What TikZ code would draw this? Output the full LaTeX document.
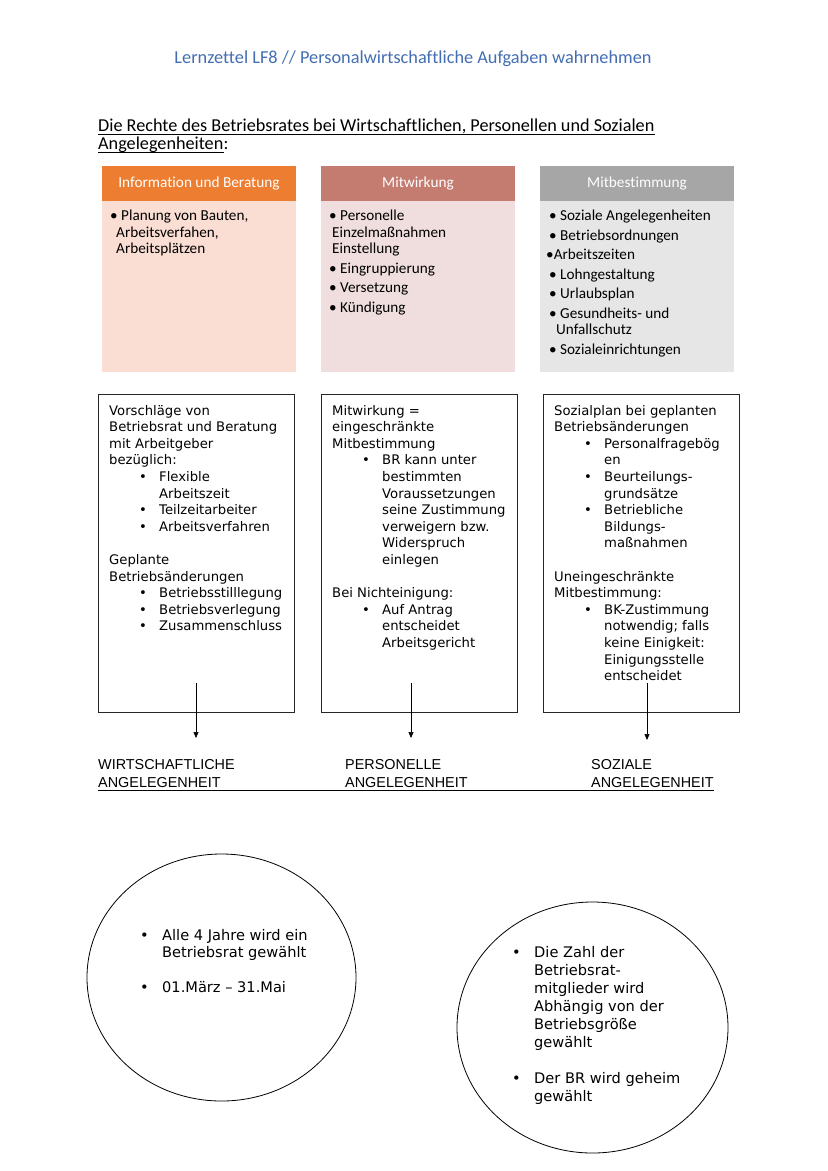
\documentclass[tikz,border=0pt]{standalone}
\usepackage{fontspec}
\setmainfont{DejaVu Sans}
\newfontfamily\calfont[Ligatures=CommonOff]{Carlito}
\newfontfamily\arlfont{Liberation Sans}
\usetikzlibrary{arrows.meta,shapes.geometric}
\definecolor{ttl}{RGB}{68,110,178}
\definecolor{hdrA}{RGB}{237,125,49}
\definecolor{bodA}{RGB}{250,221,211}
\definecolor{hdrB}{RGB}{196,123,112}
\definecolor{bodB}{RGB}{239,222,221}
\definecolor{hdrC}{RGB}{166,166,166}
\definecolor{bodC}{RGB}{230,230,230}
\newcommand\lowfont{\fontsize{13.2}{16.6}\selectfont\lineskiplimit=-20pt}
\newcommand\topfont{\calfont\fontsize{15.2}{16.5}\selectfont\lineskiplimit=-20pt}
\newcommand\myline[1]{\hbox{#1}}
\newcommand\mybul[1]{\hbox{\hspace*{30pt}\makebox[20pt][l]{•}#1}}
\newcommand\mycont[1]{\hbox{\hspace*{50pt}#1}}
\newcommand\myblank{\hbox{}}
\newcommand\cbul[1]{\hbox{\makebox[22pt][l]{•}#1}}
\newcommand\ccont[1]{\hbox{\hspace*{22pt}#1}}
\begin{document}
\begin{tikzpicture}[x=1pt,y=-1pt,
  hdr/.style={minimum width=194pt, minimum height=35pt, inner sep=0pt, text=white, font=\calfont\fontsize{15.3}{18}\selectfont},
  bodyb/.style={minimum width=194pt, minimum height=171pt, inner sep=0pt, anchor=north},
  txt/.style={anchor=base west, inner sep=0pt},
  lbox/.style={draw=black!85, line width=0.8pt, minimum width=196pt, minimum height=318pt, inner sep=0pt, anchor=north west},
  circ/.style={ellipse, draw=black, line width=0.8pt, inner sep=0pt},
  arr/.style={-{Triangle[length=6pt,width=5pt]}, line width=0.6pt},
  lab/.style={anchor=base west, inner sep=0pt, font=\arlfont\fontsize{14.4}{17}\selectfont},
  hd/.style={anchor=base west, inner sep=0pt, font=\calfont\fontsize{18.2}{20}\selectfont},
  uline/.style={line width=0.7pt}]
\useasboundingbox[fill=white] (0,0) rectangle (828,1171);

% title
\node[anchor=base, inner sep=0pt, font=\calfont\fontsize{18.3}{21}\selectfont, text=ttl] (title) at (413,63) {Lernzettel LF8 // Personalwirtschaftliche Aufgaben wahrnehmen};

% heading
\node[hd] (hd1) at (98,131) {Die Rechte des Betriebsrates bei Wirtschaftlichen, Personellen und Sozialen};
\node[hd] (hd2) at (98,149) {Angelegenheiten};
\node[hd] (hd2c) at (hd2.base east) {:};
\draw[uline] ([yshift=-3pt]hd1.base west) -- ([yshift=-3pt]hd1.base east);
\draw[uline] ([yshift=-3pt]hd2.base west) -- ([yshift=-3pt]hd2.base east);

% top boxes
\node[hdr, fill=hdrA] (h1) at (199,183.5) {Information und Beratung};
\node[bodyb, fill=bodA] (b1) at (h1.south) {};
\node[hdr, fill=hdrB] (h2) at (418,183.5) {Mitwirkung};
\node[bodyb, fill=bodB] (b2) at (h2.south) {};
\node[hdr, fill=hdrC] (h3) at (637,183.5) {Mitbestimmung};
\node[bodyb, fill=bodC] (b3) at (h3.south) {};

\node[txt] (t1) at (110,220.5) {\vtop{\topfont
  \myline{• Planung von Bauten,}
  \myline{\hspace*{6pt}Arbeitsverfahen,}
  \myline{\hspace*{6pt}Arbeitsplätzen}}};
\node[txt] (t2) at (329,220.5) {\vtop{\topfont
  \myline{• Personelle}
  \myline{\hspace*{3pt}Einzelmaßnahmen}
  \myline{\hspace*{3pt}Einstellung}\vskip3pt
  \myline{• Eingruppierung}\vskip3pt
  \myline{• Versetzung}\vskip3pt
  \myline{• Kündigung}}};
\node[txt] (t3) at (546,220.5) {\vtop{\topfont
  \myline{\hspace*{3pt}• Soziale Angelegenheiten}\vskip3pt
  \myline{\hspace*{3pt}• Betriebsordnungen}\vskip3pt
  \myline{•Arbeitszeiten}\vskip3pt
  \myline{\hspace*{3pt}• Lohngestaltung}\vskip3pt
  \myline{\hspace*{3pt}• Urlaubsplan}\vskip3pt
  \myline{\hspace*{3pt}• Gesundheits- und}
  \myline{\hspace*{10pt}Unfallschutz}\vskip3pt
  \myline{\hspace*{3pt}• Sozialeinrichtungen}}};

% lower boxes
\node[lbox] (bA) at (98,394) {};
\node[lbox] (bB) at (321,394) {};
\node[lbox] (bC) at (543,394) {};

\node[txt] (tA) at (109,415) {\vtop{\lowfont
  \myline{Vorschläge von}
  \myline{Betriebsrat und Beratung}
  \myline{mit Arbeitgeber}
  \myline{bezüglich:}
  \mybul{Flexible}
  \mycont{Arbeitszeit}
  \mybul{Teilzeitarbeiter}
  \mybul{Arbeitsverfahren}
  \myblank
  \myline{Geplante}
  \myline{Betriebsänderungen}
  \mybul{Betriebsstilllegung}
  \mybul{Betriebsverlegung}
  \mybul{Zusammenschluss}}};
\node[txt] (tB) at (332,415) {\vtop{\lowfont
  \myline{Mitwirkung =}
  \myline{eingeschränkte}
  \myline{Mitbestimmung}
  \mybul{BR kann unter}
  \mycont{bestimmten}
  \mycont{Voraussetzungen}
  \mycont{seine Zustimmung}
  \mycont{verweigern bzw.}
  \mycont{Widerspruch}
  \mycont{einlegen}
  \myblank
  \myline{Bei Nichteinigung:}
  \mybul{Auf Antrag}
  \mycont{entscheidet}
  \mycont{Arbeitsgericht}}};
\node[txt] (tC) at (554,415) {\vtop{\lowfont
  \myline{Sozialplan bei geplanten}
  \myline{Betriebsänderungen}
  \mybul{Personalfragebög}
  \mycont{en}
  \mybul{Beurteilungs-}
  \mycont{grundsätze}
  \mybul{Betriebliche}
  \mycont{Bildungs-}
  \mycont{maßnahmen}
  \myblank
  \myline{Uneingeschränkte}
  \myline{Mitbestimmung:}
  \mybul{BK-Zustimmung}
  \mycont{notwendig; falls}
  \mycont{keine Einigkeit:}
  \mycont{Einigungsstelle}
  \mycont{entscheidet}}};

% arrows
\coordinate (a1s) at (196,683); \coordinate (a1e) at (196,738);
\coordinate (a2s) at (411,683); \coordinate (a2e) at (411,738);
\coordinate (a3s) at (647,683); \coordinate (a3e) at (647,740);
\draw[arr] (a1s) -- (a1e);
\draw[arr] (a2s) -- (a2e);
\draw[arr] (a3s) -- (a3e);

% labels
\node[lab] (l1a) at (98,769) {WIRTSCHAFTLICHE};
\node[lab] (l1b) at (98,787) {ANGELEGENHEIT};
\node[lab] (l2a) at (345,769) {PERSONELLE};
\node[lab] (l2b) at (345,787) {ANGELEGENHEIT};
\node[lab] (l3a) at (591,769) {SOZIALE};
\node[lab] (l3b) at (591,787) {ANGELEGENHEIT};
\draw[uline] ([yshift=-3pt]l1b.base west) -- ([yshift=-3pt]l3b.base east);

% circles
\node[circ, minimum width=269pt, minimum height=247pt] (c1) at (221.5,977.5) {};
\node[circ, minimum width=271pt, minimum height=251pt] (c2) at (592.5,1027.5) {};
\node[txt] (ct1) at (140,940) {\vtop{\fontsize{14.6}{17.5}\selectfont\lineskiplimit=-20pt
  \cbul{Alle 4 Jahre wird ein}
  \ccont{Betriebsrat gewählt}
  \myblank
  \cbul{01.März – 31.Mai}}};
\node[txt] (ct2) at (512,957) {\vtop{\fontsize{14.6}{18}\selectfont\lineskiplimit=-20pt
  \cbul{Die Zahl der}
  \ccont{Betriebsrat-}
  \ccont{mitglieder wird}
  \ccont{Abhängig von der}
  \ccont{Betriebsgröße}
  \ccont{gewählt}
  \myblank
  \cbul{Der BR wird geheim}
  \ccont{gewählt}}};
\end{tikzpicture}
\end{document}
